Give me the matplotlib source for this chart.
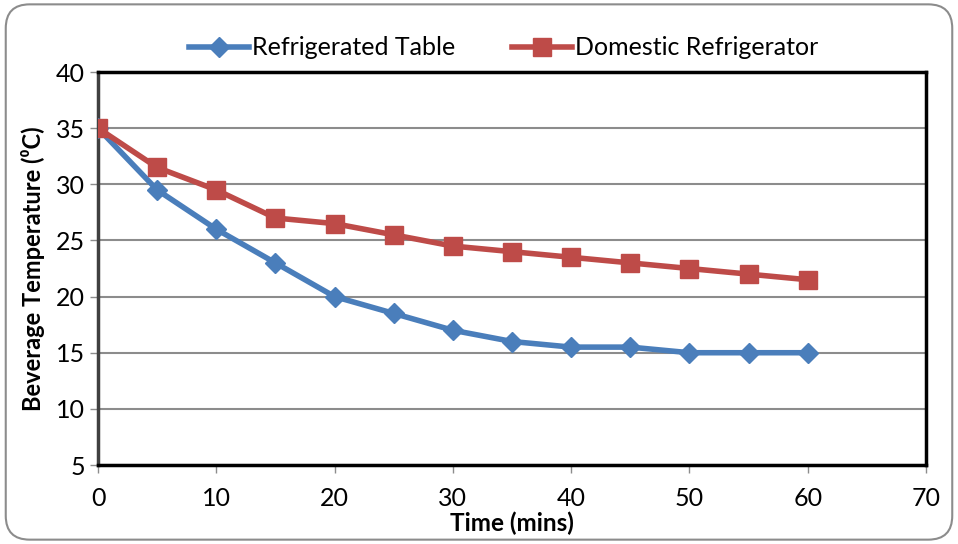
import matplotlib
matplotlib.use("Agg")
import matplotlib.pyplot as plt
from matplotlib.patches import FancyBboxPatch

plt.rcParams['font.family'] = ['Lato', 'DejaVu Sans']

time_min = [0, 5, 10, 15, 20, 25, 30, 35, 40, 45, 50, 55, 60]
refrigerated_table = [35, 29.5, 26, 23, 20, 18.5, 17, 16, 15.5, 15.5, 15, 15, 15]
domestic_fridge = [35, 31.5, 29.5, 27, 26.5, 25.5, 24.5, 24, 23.5, 23, 22.5, 22, 21.5]

fig = plt.figure(figsize=(9.58, 5.44), dpi=100)

# outer rounded frame like the excel chart area
frame = FancyBboxPatch((0.006, 0.008), 0.988, 0.984, boxstyle="round,pad=0,rounding_size=0.025",
                       transform=fig.transFigure, fill=False, ec="#8c8c8c", lw=1.5,
                       mutation_aspect=958 / 544)
fig.patches.append(frame)

ax = fig.add_axes([0.1023, 0.1452, 0.8643, 0.7224])

ax.plot(time_min, refrigerated_table, color="#4a7ebb", lw=4, marker="D", ms=10,
        label="Refrigerated Table", zorder=3)
ax.plot(time_min, domestic_fridge, color="#be4b48", lw=4, marker="s", ms=13,
        label="Domestic Refrigerator", zorder=3)

ax.set_xlim(0, 70)
ax.set_ylim(5, 40)
ax.set_xticks(range(0, 71, 10))
ax.set_yticks(range(5, 41, 5))
ax.grid(axis="y", color="#8c8c8c", lw=1.5)
ax.set_axisbelow(True)

for s in ["top", "right"]:
    ax.spines[s].set_color("black")
    ax.spines[s].set_linewidth(2.5)
ax.spines["left"].set_color("#404040")
ax.spines["left"].set_linewidth(2.5)
ax.spines["bottom"].set_color("black")
ax.spines["bottom"].set_linewidth(2.5)

ax.tick_params(axis="both", labelsize=18, colors="black", length=6, width=1, direction="out")
ax.tick_params(axis="both", color="#8c8c8c")
ax.tick_params(axis="x", pad=10)

ax.set_xlabel("Time (mins)", fontsize=17.5, fontweight="bold", labelpad=1)
ax.set_ylabel("Beverage Temperature (⁰C)", fontsize=17, fontweight="bold", labelpad=8)

ax.legend(loc="lower center", bbox_to_anchor=(0.49, 0.975), ncol=2, frameon=False,
          fontsize=18, handlelength=2.4, handletextpad=0.1, columnspacing=2.3)

fig.savefig("out.png", dpi=100)
